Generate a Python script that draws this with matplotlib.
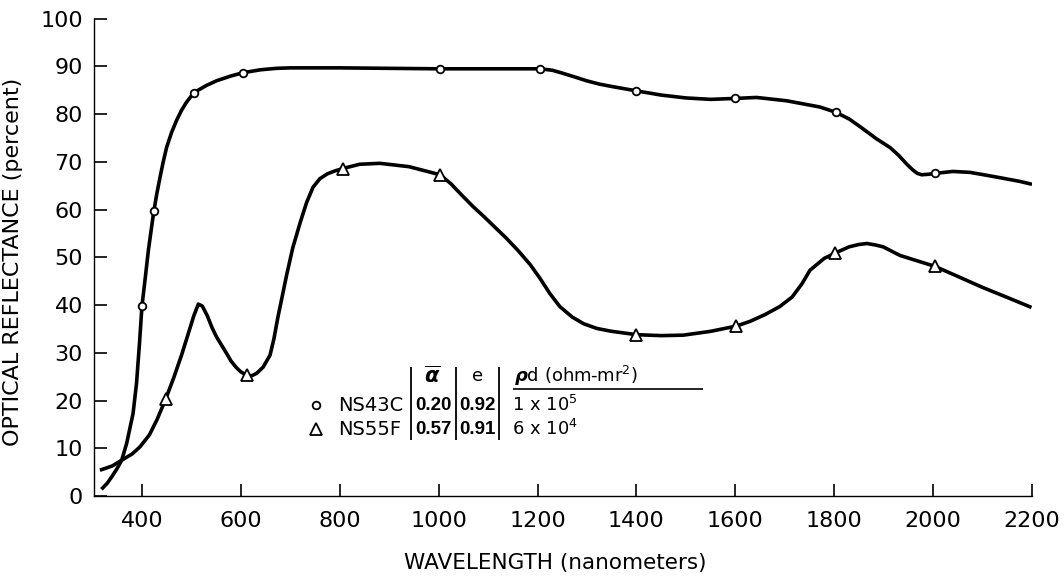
import matplotlib
matplotlib.use("Agg")
import matplotlib.pyplot as plt

# ---------------- data ----------------
# traced reflectance curves (wavelength nm, reflectance %)
ns43c_curve_x = [318, 330, 340, 350, 359, 369, 382, 389, 395, 400, 407, 413, 419, 424, 430, 436, 443,
                 450, 460, 470, 480, 490, 505, 530, 551, 580, 605, 640, 672, 700, 800, 900, 1003,
                 1100, 1205, 1230, 1250, 1275, 1299, 1325, 1350, 1399, 1450, 1500, 1550, 1601, 1643,
                 1704, 1771, 1803, 1830, 1852, 1886, 1913, 1930, 1947, 1958, 1968, 1977, 1990, 2005,
                 2040, 2075, 2108, 2140, 2176, 2200]
ns43c_curve_y = [1.4, 2.7, 4.2, 5.8, 7.5, 11.0, 17.3, 23.6, 32.0, 39.8, 46.0, 51.5, 56.0, 59.7, 63.3,
                 66.5, 70.0, 73.1, 76.2, 78.7, 80.8, 82.5, 84.5, 86.0, 87.0, 88.0, 88.7, 89.3, 89.6,
                 89.7, 89.7, 89.6, 89.5, 89.5, 89.5, 89.2, 88.6, 87.8, 87.0, 86.3, 85.8, 84.9, 84.0,
                 83.4, 83.1, 83.3, 83.5, 82.8, 81.5, 80.4, 79.0, 77.4, 74.8, 73.0, 71.4, 69.5, 68.4,
                 67.6, 67.3, 67.4, 67.6, 68.0, 67.8, 67.2, 66.6, 65.9, 65.3]

ns55f_curve_x = [315, 340, 359, 380, 396, 415, 430, 448, 465, 480, 493, 505, 514, 522, 532, 542, 551,
                 561, 571, 580, 590, 600, 612, 622, 632, 645, 659, 667, 675, 684, 693, 705, 720, 733,
                 746, 760, 775, 790, 806, 840, 881, 940, 1003, 1025, 1049, 1070, 1090, 1110, 1137,
                 1160, 1185, 1205, 1225, 1245, 1270, 1293, 1320, 1350, 1400, 1450, 1495, 1550, 1602,
                 1630, 1660, 1690, 1715, 1735, 1751, 1780, 1802, 1830, 1850, 1866, 1883, 1899, 1933,
                 2004, 2050, 2100, 2150, 2199]
ns55f_curve_y = [5.4, 6.3, 7.5, 8.8, 10.3, 12.8, 15.9, 20.3, 25.0, 29.5, 33.8, 37.8, 40.2, 39.8, 37.8,
                 35.2, 33.3, 31.6, 29.9, 28.3, 27.0, 26.0, 25.3, 25.2, 25.7, 27.0, 29.5, 33.0, 37.5,
                 42.0, 46.5, 52.0, 57.3, 61.5, 64.7, 66.5, 67.5, 68.1, 68.6, 69.5, 69.7, 69.0, 67.3,
                 65.4, 62.8, 60.6, 58.7, 56.7, 54.0, 51.5, 48.5, 45.6, 42.4, 39.7, 37.5, 36.1, 35.1,
                 34.5, 33.8, 33.6, 33.7, 34.5, 35.6, 36.6, 38.0, 39.7, 41.7, 44.5, 47.3, 49.8, 50.9,
                 52.2, 52.7, 52.9, 52.6, 52.2, 50.4, 48.1, 46.0, 43.7, 41.6, 39.5]

# measured points
ns43c_pts_x = [400, 425, 505, 605, 1003, 1205, 1400, 1600, 1803, 2004]
ns43c_pts_y = [39.8, 59.7, 84.5, 88.7, 89.5, 89.5, 84.9, 83.3, 80.4, 67.6]
ns55f_pts_x = [448, 612, 806, 1003, 1400, 1602, 1802, 2004]
ns55f_pts_y = [20.3, 25.3, 68.6, 67.3, 33.8, 35.6, 50.9, 48.1]

# axis ticks
x_ticks = [400, 600, 800, 1000, 1200, 1400, 1600, 1800, 2000, 2200]
y_ticks = [0, 10, 20, 30, 40, 50, 60, 70, 80, 90, 100]

# legend table
samples = ["NS43C", "NS55F"]
alpha_vals = ["0.20", "0.57"]
e_vals = ["0.92", "0.91"]
rho_vals = [r"1 x 10$^5$", r"6 x 10$^4$"]

# ---------------- figure ----------------
plt.rcParams['font.family'] = ['DejaVu Sans']
fig = plt.figure(figsize=(10.64, 5.78), dpi=100)
ax = fig.add_axes([94 / 1064, 1 - 496 / 578, 938 / 1064, 477.3 / 578])

lw = 2.6
for cx, cy in [(ns43c_curve_x, ns43c_curve_y), (ns55f_curve_x, ns55f_curve_y)]:
    ax.plot(cx, cy, color='black', lw=lw, solid_joinstyle='round',
            solid_capstyle='butt', zorder=2)
ax.plot(ns43c_pts_x, ns43c_pts_y, linestyle='none', marker='o', ms=5.5, mfc='white',
        mec='black', mew=1.3, zorder=3)
ax.plot(ns55f_pts_x, ns55f_pts_y, linestyle='none', marker='^', ms=9, mfc='white',
        mec='black', mew=1.3, zorder=3)

ax.set_xlim(303, 2200)
ax.set_ylim(0, 100)
ax.set_xticks(x_ticks)
ax.set_yticks(y_ticks)
ax.spines['top'].set_visible(False)
ax.spines['right'].set_visible(False)
for s in ['left', 'bottom']:
    ax.spines[s].set_linewidth(1.0)
ax.tick_params(axis='x', direction='in', length=9, width=1.2, pad=11, labelsize=16)
ax.tick_params(axis='y', direction='in', length=9, width=1.2, pad=8, labelsize=16)

ax.set_xlabel("WAVELENGTH (nanometers)", fontsize=15.5)
ax.set_ylabel("OPTICAL REFLECTANCE (percent)", fontsize=16)
ax.xaxis.set_label_coords(0.4915, -0.119)
ax.yaxis.set_label_coords(-0.0757, 0.49)

# ---------------- legend table ----------------
row_y = [19.0, 14.0]
mk = ['o', '^']
mks = [5.5, 9]
for i in range(2):
    ax.plot([752], [row_y[i]], linestyle='none', marker=mk[i], ms=mks[i], mfc='white',
            mec='black', mew=1.3, clip_on=False)
    ax.text(796, row_y[i], samples[i], fontsize=14, va='center', ha='left')
    ax.text(989, row_y[i], alpha_vals[i], fontsize=13.5, va='center', ha='center',
            family='Liberation Sans', weight='bold')
    ax.text(1078, row_y[i], e_vals[i], fontsize=13.5, va='center', ha='center',
            family='Liberation Sans', weight='bold')
    ax.text(1148, row_y[i], rho_vals[i], fontsize=13, va='center', ha='left')

ax.text(987, 25.2, r"$\overline{\boldsymbol{\alpha}}$", fontsize=15, ha='center', va='center')
ax.text(1078, 25.2, "e", fontsize=13, ha='center', va='center')
ax.text(1152, 25.2, r"$\boldsymbol{\rho}$d (ohm-mr$^2$)", fontsize=13, ha='left', va='center')
ax.vlines([943.5, 1034.5, 1122], 11.7, 27.0, color='black', lw=1.3)
ax.hlines(22.4, 1150, 1535, color='black', lw=1.2)

fig.savefig("out.png", dpi=100)
